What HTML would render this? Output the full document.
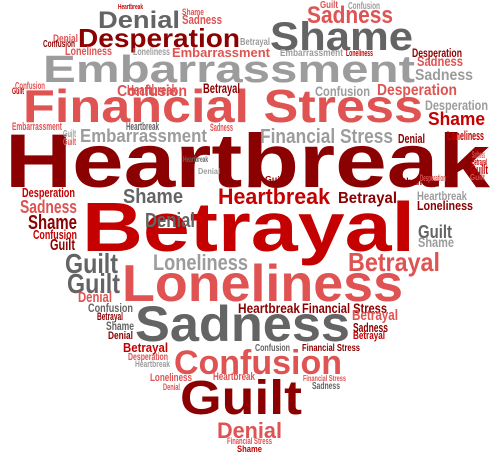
<!DOCTYPE html>
<html><head><meta charset="utf-8"><style>
html,body{margin:0;padding:0;background:#fff;}
svg{display:block;}
text{font-family:"Liberation Sans",sans-serif;font-weight:bold;}
</style></head><body>
<svg id="cloud" width="495" height="461" viewBox="0 0 495 461" xmlns="http://www.w3.org/2000/svg"></svg>
<script>
// word, x, baseline, width, size, colour key
const words = ["Heartbreak","Betrayal","Loneliness","Sadness","Confusion","Guilt","Denial","Financial Stress","Embarrassment","Shame","Desperation","Denial","Sadness","Financial Stress","Embarrassment","Confusion","Embarrassment","Confusion","Desperation","Shame","Desperation","Sadness","Sadness","Desperation","Heartbreak","Shame","Betrayal","Desperation","Sadness","Shame","Confusion","Guilt","Guilt","Guilt","Denial","Confusion","Loneliness","Betrayal","Denial","Guilt","Shame","Loneliness","Heartbreak","Heartbreak","Financial Stress","Betrayal","Sadness","Betrayal","Betrayal","Shame","Denial","Betrayal","Desperation","Heartbreak","Loneliness","Heartbreak","Financial Stress","Confusion","Financial Stress","Sadness","Denial","Financial Stress","Shame","Heartbreak","Shame","Sadness","Guilt","Confusion","Denial","Confusion","Loneliness","Loneliness","Betrayal","Embarrassment","Loneliness","Heartbreak","Betrayal","Confusion","Guilt","Embarrassment","Heartbreak","Sadness","Guilt","Guilt","Loneliness","Denial","Sadness","Betrayal","Guilt","Guilt","Shame","Desperation","Denial","Heartbreak","Guilt"];
const xs =    [5,82,122,135,174,180,217,23,43,270,78,98,307,260,80,117,172,315,377,428,425,415,417,412,218,123,338,22,20,28,33,50,65,67,78,88,153,348,145,418,418,417,417,238,302,352,353,353,97,106,108,123,128,135,150,213,303,255,302,312,163,227,237,118,182,182,320,348,53,43,65,133,240,280,346,127,203,15,12,12,126,210,63,63,447,398,472,472,470,470,400,420,198,183,265];
const ys =    [187,251,301,341,374,414,438,122,82,50,47,28,23,143,142,96,57,96,95,125,110,80,66,57,204,203,203,197,213,229,239,250,273,293,302,312,270,271,227,238,247,210,200,313,313,320,332,339,320,330,339,352,360,367,381,380,381,351,351,389,390,444,452,9,15,24,8,9,42,47,55,55,45,56,56,95,93,89,94,130,130,131,137,145,140,143,158,165,174,180,185,181,174,162,182];
const ws =    [485,333,281,215,168,122,65,400,372,143,162,82,86,133,127,70,98,55,80,57,63,58,46,50,112,60,59,53,57,49,44,25,53,53,34,45,95,92,50,34,36,56,50,62,85,46,35,32,26,28,25,45,40,35,42,42,43,35,58,28,17,45,25,25,22,40,18,32,25,32,47,37,30,63,27,50,37,30,12,50,33,23,13,13,37,27,13,15,18,15,30,26,22,25,20];
const fs =    [76,70,52,50,34,48,22,46,38,40,26,24,24,20,18,16,13,14,16,18,14,16,14,12,22,20,16,13,18,20,13,16,28,28,15,12,22,26,20,18,14,13,12,14,14,15,13,11,11,12,11,13,10,9,11,11,8,10,10,10,9,9,9,7,9,13,10,10,11,10,12,10,10,10,9,15,14,10,9,11,11,11,10,10,13,13,10,9,13,8,10,9,8,8,8];
const cs =    ["dr","r","lr","dg","lr","dr","lr","lr","lg","dg","dr","dg","lr","lg","lg","lr","lr","lg","lr","r","lg","lg","lr","dr","r","dg","dr","r","lr","dr","r","dr","dg","dg","lr","dg","lg","lr","dg","dg","lg","dr","lg","dr","dr","lr","dr","r","dr","dg","dr","r","lr","lg","lr","lr","lr","dg","dr","dg","lr","lr","r","r","lr","lr","lr","lg","lr","dr","lr","lg","lg","lg","r","lr","dr","lr","r","lr","dg","lr","lg","lr","r","dr","lr","r","r","lr","dr","lr","lg","dg","dr"];
const palette = {dr:"#8b0000",r:"#c40000",lr:"#df5353",dg:"#646464",lg:"#9c9c9c"};
const svg = document.getElementById('cloud');
for (let i = 0; i < words.length; i++) {
  const t = document.createElementNS("http://www.w3.org/2000/svg","text");
  t.setAttribute('x', xs[i]);
  t.setAttribute('y', ys[i]);
  t.setAttribute('font-size', fs[i]);
  t.setAttribute('fill', palette[cs[i]]);
  t.setAttribute('textLength', ws[i]);
  t.setAttribute('lengthAdjust', 'spacingAndGlyphs');
  
  
  t.textContent = words[i];
  svg.appendChild(t);
}
</script>
</body></html>
